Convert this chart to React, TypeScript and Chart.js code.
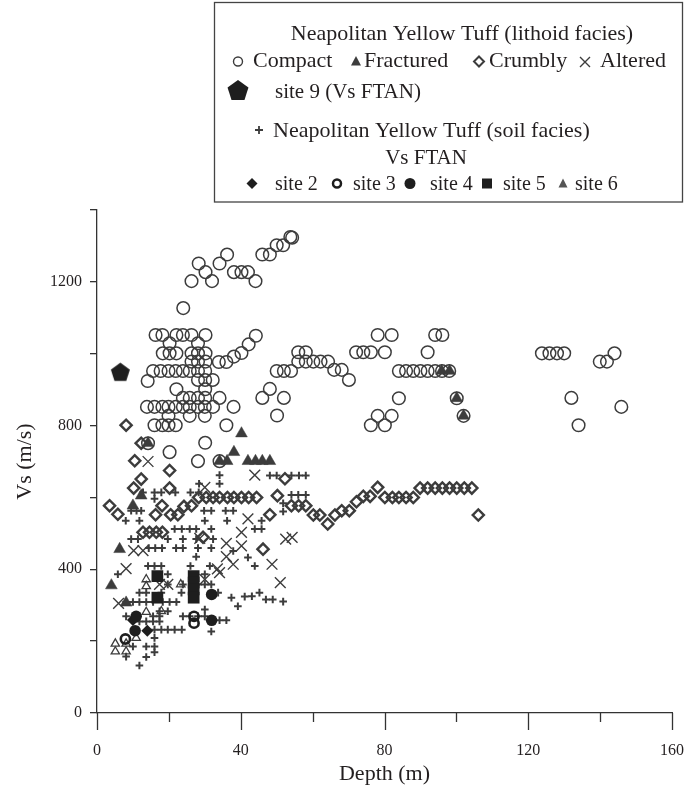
import React, { useEffect, useRef } from 'react';
import { Chart, registerables } from 'chart.js';

Chart.register(...registerables);

type P = [number, number];

// ---- axis ticks ----
const xTickValues = [0, 20, 40, 60, 80, 100, 120, 140, 160];
const xLabelValues = [0, 40, 80, 120, 160];
const yLabelValues = [0, 400, 800, 1200];

// ---- lithoid facies ----
const compact: P[] = [
  [53.8, 1325], [54.3, 1323], [50, 1302], [51.8, 1302],
  [36.2, 1276], [46, 1276], [48.1, 1276], [28.3, 1251], [34.1, 1251],
  [30.2, 1227], [38.1, 1227], [40.2, 1227], [42, 1227],
  [26.3, 1202], [32, 1202], [44.1, 1202], [24, 1127],
  [16.3, 1052], [18.2, 1052], [22.1, 1052], [23.9, 1052], [26.3, 1052], [30.2, 1052],
  [20.2, 1029], [28.1, 1029],
  [33.9, 977], [36, 977], [38.1, 992], [40.2, 1002], [42.2, 1026], [44.2, 1050],
  [18.3, 1001], [20.2, 1001], [22.1, 1001], [26.3, 1001], [28.1, 1001], [30.2, 1001],
  [26.3, 978], [28.1, 978], [30.2, 978],
  [15.6, 952], [17.7, 952], [19.9, 952], [21.9, 952], [23.9, 952], [25.8, 952], [28.1, 952], [30.1, 952],
  [14.1, 924], [28.1, 927], [30.1, 927], [32.2, 927],
  [22.1, 901], [30.1, 901],
  [23.9, 877], [25.8, 877], [28.1, 877], [30.1, 877], [34.1, 877],
  [13.9, 852], [16, 852], [18.2, 852], [19.9, 852], [21.9, 852], [23.9, 852], [25.8, 852], [28.1, 852], [30, 852], [32.3, 852], [38, 852],
  [19.9, 827], [25.8, 827], [30, 827],
  [16, 801], [18.2, 801], [19.9, 801], [21.9, 801], [36, 801],
  [30.1, 752], [14.2, 751], [20.2, 726], [28.1, 701], [34.1, 701],
  [48.1, 902], [46, 877], [52, 877], [50.1, 828], [50, 952], [52, 952], [54, 952],
  [56, 1004], [58.1, 1004], [72.1, 1004], [74.1, 1004], [76.2, 1004], [80.1, 1004], [92, 1004],
  [56, 978], [58.1, 978], [60.2, 978], [62.2, 978], [64.3, 978],
  [66, 955], [68.1, 955], [70.1, 927],
  [78.1, 1052], [82, 1052], [94.1, 1052], [96.1, 1052],
  [84, 952], [86, 952], [88, 952], [90, 952], [92, 952], [94.1, 952], [96, 952], [98, 952],
  [84, 876], [100.1, 876], [102, 827],
  [78.1, 827], [82, 827], [76.2, 801], [80.1, 801],
  [123.8, 1001], [125.9, 1001], [128, 1001], [130, 1001], [144, 1001],
  [139.9, 978], [141.9, 978], [132, 877], [134, 801], [145.9, 852],
];

const fractured: P[] = [
  [4, 355], [6.3, 456], [8.1, 307], [10, 577], [12.3, 605], [14.2, 751],
  [34.1, 701], [36.2, 701], [38.1, 726], [40.2, 778], [42, 701], [44.1, 701], [46, 701], [48.1, 701],
  [95.9, 952], [98.1, 952], [100.1, 876], [102, 827],
];

const crumbly: P[] = [
  [8.1, 801], [10.5, 702], [12.3, 751], [20.2, 675], [12.3, 651], [10.2, 626], [20.2, 626],
  [3.5, 577], [5.8, 553], [16.3, 552], [18.1, 577], [20.5, 552], [22.5, 552], [24.2, 575], [26.3, 577],
  [12.8, 503], [14.6, 503], [16.5, 503], [18.2, 503], [29.5, 489], [46.2, 456], [48.1, 552], [50.2, 605],
  [28.3, 600], [30.4, 600], [32.3, 600], [34.1, 600], [36.3, 600], [38.1, 600], [40.2, 600], [42.2, 600], [44.4, 600],
  [52.3, 652], [54.1, 577], [56.1, 577], [58.1, 577], [60.2, 551], [62, 551], [64.2, 526], [66.2, 551],
  [68.1, 563], [70.2, 563], [72.2, 588], [74.1, 603], [76, 603], [78.1, 628],
  [80.1, 600], [82.2, 600], [84, 600], [86, 600], [88, 600],
  [89.9, 626], [92, 626], [94.1, 626], [96.1, 626], [98.1, 626], [100.1, 626], [102.2, 626], [104.3, 626],
  [106.1, 551],
];

const altered: P[] = [
  [14.2, 700], [43.9, 662], [30, 628], [42, 540], [40.2, 503], [28.6, 486], [36, 472], [40.2, 465],
  [10.2, 452], [12.8, 452], [36, 435], [37.9, 414], [33.5, 401], [34.1, 391], [48.7, 414],
  [52.5, 484], [54.3, 489], [51, 363], [8.1, 402], [6, 305], [17.4, 358], [19.7, 358], [30, 372],
];

// ---- soil facies ----
const soil: P[] = [
  [34.1, 662], [34.1, 638], [28.4, 638],
  [48.1, 661], [50, 661], [54.1, 661], [56.2, 661], [58.1, 661],
  [54.1, 607], [56, 607], [58.1, 607],
  [12.8, 614], [16, 614], [17.9, 614], [21.8, 614], [26, 614], [28.3, 614], [16, 596],
  [51.8, 584], [51.8, 561],
  [9.5, 563], [11, 563], [12.3, 563], [29.8, 563], [31.8, 563], [35.8, 563], [37.9, 563],
  [8, 535], [11.8, 535], [30, 535], [36.2, 535], [45.8, 535],
  [21.6, 512], [23.6, 512], [25.8, 512], [27.6, 512], [31.8, 512], [43.9, 512], [45.8, 512],
  [9.5, 484], [11.4, 484], [19.7, 484], [23.9, 484], [27.6, 484], [32.3, 484],
  [14.4, 459], [16.2, 459], [18.1, 459], [22, 459], [23.9, 459], [28.1, 459], [31.8, 459],
  [27.6, 435], [42, 433], [37.9, 451],
  [14.2, 409], [16, 409], [17.9, 409], [26, 409], [31.4, 409], [43.9, 409],
  [5.8, 386], [19.7, 386], [30, 386],
  [19.7, 358], [23.9, 358], [28.1, 358], [30, 358], [31.8, 358],
  [11.8, 335], [13.7, 335], [17.9, 335], [23.5, 335], [33.7, 335],
  [37.4, 321], [41.1, 324], [43.1, 325], [45.2, 335], [47, 316], [48.9, 316], [39.2, 297], [51.8, 310],
  [8.1, 309], [10, 309], [11.8, 309], [13.7, 309], [15.6, 309], [18.3, 309], [20.2, 309], [22.1, 309],
  [17.4, 283], [19.7, 283], [30, 288],
  [8.1, 269], [15.6, 269], [17.4, 269], [23.9, 269], [25.8, 269], [28.1, 269], [30, 269],
  [34.1, 258], [36, 258],
  [11.8, 255], [13.7, 255], [15.6, 255], [17.4, 255],
  [16, 232], [17.9, 232], [19.7, 232], [21.6, 232], [23.6, 232], [31.8, 227],
  [16, 209], [10, 185], [13.7, 185], [16, 185], [16, 169], [8.1, 157], [13.7, 156], [11.8, 132],
];

// ---- Vs FTAN sites ----
const site2: P[] = [[10, 259], [14, 229]];
const site3: P[] = [[7.9, 206], [27, 269], [27, 250]];
const site4: P[] = [[10.9, 269], [10.6, 229], [31.9, 330], [31.9, 258]];
const site5: P[] = [[16.8, 381], [16.8, 321], [26.9, 381], [26.9, 363], [26.9, 344], [26.9, 321]];
const site6: P[] = [
  [13.7, 372], [13.7, 353], [23.3, 358], [13.7, 281], [17.9, 283],
  [5.1, 193], [5.1, 171], [8.1, 193], [8.1, 171], [10.9, 209],
];
const site9: P[] = [[6.5, 950]];

const FONT = "'Liberation Serif', 'Times New Roman', serif";
const INK = '#231f20';
const GRAY = '#3c3c3c';
const DARK = '#1e1e1e';
const CLEAR = 'rgba(0,0,0,0)';

function makePentagon(size: number, color: string): HTMLCanvasElement {
  const c = document.createElement('canvas');
  c.width = size;
  c.height = size;
  const ctx = c.getContext('2d')!;
  drawPentagon(ctx, size / 2, size / 2 + size * 0.05, size / 2 - 0.5, color);
  return c;
}

function drawPentagon(ctx: CanvasRenderingContext2D, cx: number, cy: number, r: number, color: string) {
  ctx.fillStyle = color;
  ctx.beginPath();
  for (let i = 0; i < 5; i++) {
    const a = -Math.PI / 2 + (i * 2 * Math.PI) / 5;
    const x = cx + r * Math.cos(a);
    const y = cy + r * Math.sin(a);
    if (i === 0) ctx.moveTo(x, y);
    else ctx.lineTo(x, y);
  }
  ctx.closePath();
  ctx.fill();
}

function toPts(arr: P[]) {
  return arr.map(([x, y]) => ({ x, y }));
}

const legendPlugin = {
  id: 'paperLegend',
  afterDraw(chart: any) {
    const ctx: CanvasRenderingContext2D = chart.ctx;
    ctx.save();
    ctx.strokeStyle = '#444';
    ctx.lineWidth = 1.3;
    ctx.strokeRect(214.5, 2.5, 468, 199.5);

    ctx.fillStyle = INK;
    ctx.textBaseline = 'alphabetic';
    ctx.font = `22px ${FONT}`;
    ctx.textAlign = 'center';
    ctx.fillText('Neapolitan Yellow Tuff (lithoid facies)', 462, 39.5);

    ctx.textAlign = 'left';
    ctx.strokeStyle = GRAY;
    ctx.fillStyle = GRAY;
    // circle
    ctx.lineWidth = 1.4;
    ctx.beginPath();
    ctx.arc(238, 61.5, 4.5, 0, Math.PI * 2);
    ctx.stroke();
    // triangle
    ctx.beginPath();
    ctx.moveTo(356, 56);
    ctx.lineTo(361, 65.5);
    ctx.lineTo(351, 65.5);
    ctx.closePath();
    ctx.fill();
    // diamond
    ctx.lineWidth = 2;
    ctx.beginPath();
    ctx.moveTo(479, 56.5);
    ctx.lineTo(484, 61.5);
    ctx.lineTo(479, 66.5);
    ctx.lineTo(474, 61.5);
    ctx.closePath();
    ctx.stroke();
    // x
    ctx.lineWidth = 1.4;
    ctx.beginPath();
    ctx.moveTo(580, 57);
    ctx.lineTo(590, 67);
    ctx.moveTo(590, 57);
    ctx.lineTo(580, 67);
    ctx.stroke();

    ctx.fillStyle = INK;
    ctx.font = `22px ${FONT}`;
    ctx.fillText('Compact', 253, 66.5);
    ctx.fillText('Fractured', 364, 66.5);
    ctx.fillText('Crumbly', 489, 66.5);
    ctx.fillText('Altered', 600, 66.5);

    // site 9
    drawPentagon(ctx, 238, 91, 11, DARK);
    ctx.fillStyle = INK;
    ctx.font = `21px ${FONT}`;
    ctx.fillText('site 9 (Vs FTAN)', 275, 97.5);

    // soil facies
    ctx.strokeStyle = GRAY;
    ctx.lineWidth = 1.8;
    ctx.beginPath();
    ctx.moveTo(255, 130);
    ctx.lineTo(263, 130);
    ctx.moveTo(259, 126);
    ctx.lineTo(259, 134);
    ctx.stroke();
    ctx.fillStyle = INK;
    ctx.font = `22px ${FONT}`;
    ctx.fillText('Neapolitan Yellow Tuff (soil facies)', 273, 136.5);

    ctx.font = `21px ${FONT}`;
    ctx.textAlign = 'center';
    ctx.fillText('Vs FTAN', 426, 163.5);
    ctx.textAlign = 'left';

    // bottom row
    const my = 183.5;
    ctx.fillStyle = DARK;
    ctx.beginPath();
    ctx.moveTo(252, my - 5.5);
    ctx.lineTo(257.5, my);
    ctx.lineTo(252, my + 5.5);
    ctx.lineTo(246.5, my);
    ctx.closePath();
    ctx.fill();

    ctx.strokeStyle = DARK;
    ctx.lineWidth = 2.5;
    ctx.beginPath();
    ctx.arc(337, my, 4, 0, Math.PI * 2);
    ctx.stroke();

    ctx.beginPath();
    ctx.arc(410, my, 5.5, 0, Math.PI * 2);
    ctx.fill();

    ctx.fillRect(482, my - 5, 10, 10);

    ctx.fillStyle = '#555';
    ctx.beginPath();
    ctx.moveTo(563, my - 5);
    ctx.lineTo(567.5, my + 4);
    ctx.lineTo(558.5, my + 4);
    ctx.closePath();
    ctx.fill();

    ctx.fillStyle = INK;
    ctx.font = `20px ${FONT}`;
    ctx.fillText('site 2', 275, 190);
    ctx.fillText('site 3', 353, 190);
    ctx.fillText('site 4', 430, 190);
    ctx.fillText('site 5', 503, 190);
    ctx.fillText('site 6', 575, 190);

    // x-axis tick marks (major / minor)
    const xs = chart.scales.x;
    const y0 = chart.chartArea.bottom;
    ctx.strokeStyle = '#333';
    ctx.lineWidth = 1.3;
    for (const v of xTickValues) {
      const px = Math.round(xs.getPixelForValue(v)) + 0.5;
      const len = xLabelValues.includes(v) ? 17 : 9;
      ctx.beginPath();
      ctx.moveTo(px, y0);
      ctx.lineTo(px, y0 + len);
      ctx.stroke();
    }
    ctx.restore();
  },
};

export default function App() {
  const ref = useRef<HTMLCanvasElement | null>(null);

  useEffect(() => {
    const canvas = ref.current;
    if (!canvas) return;
    const pent = makePentagon(21, DARK);

    const chart = new Chart(canvas, {
      type: 'scatter',
      data: {
        datasets: [
          { label: 'site 9', data: toPts(site9), pointStyle: pent as any, pointRadius: 10, backgroundColor: DARK, borderColor: DARK },
          { label: 'site 5', data: toPts(site5), pointStyle: 'rect', pointRadius: 8.3, backgroundColor: DARK, borderColor: DARK, borderWidth: 0 },
          { label: 'site 4', data: toPts(site4), pointStyle: 'circle', pointRadius: 5.8, backgroundColor: DARK, borderColor: DARK, borderWidth: 0 },
          { label: 'site 2', data: toPts(site2), pointStyle: 'rectRot', pointRadius: 6, backgroundColor: DARK, borderColor: DARK, borderWidth: 0 },
          { label: 'site 3', data: toPts(site3), pointStyle: 'circle', pointRadius: 4.6, backgroundColor: CLEAR, borderColor: DARK, borderWidth: 2.6 },
          { label: 'site 6', data: toPts(site6), pointStyle: 'triangle', pointRadius: 4.8, backgroundColor: CLEAR, borderColor: GRAY, borderWidth: 1.3 },
          { label: 'Fractured', data: toPts(fractured), pointStyle: 'triangle', pointRadius: 6.8, backgroundColor: GRAY, borderColor: GRAY, borderWidth: 0.5 },
          { label: 'soil', data: toPts(soil), pointStyle: 'cross', pointRadius: 3.8, backgroundColor: CLEAR, borderColor: GRAY, borderWidth: 2 },
          { label: 'Altered', data: toPts(altered), pointStyle: 'crossRot', pointRadius: 7.6, backgroundColor: CLEAR, borderColor: GRAY, borderWidth: 1.4 },
          { label: 'Crumbly', data: toPts(crumbly), pointStyle: 'rectRot', pointRadius: 5.6, backgroundColor: CLEAR, borderColor: GRAY, borderWidth: 2.4 },
          { label: 'Compact', data: toPts(compact), pointStyle: 'circle', pointRadius: 6.3, backgroundColor: CLEAR, borderColor: GRAY, borderWidth: 1.5 },
        ],
      },
      options: {
        animation: false,
        responsive: false,
        devicePixelRatio: 1,
        layout: { padding: { left: 0, right: 13, top: 210, bottom: 0 } },
        plugins: {
          legend: { display: false },
          tooltip: { enabled: false },
        },
        elements: { point: { hoverRadius: 0 } },
        scales: {
          x: {
            type: 'linear',
            min: 0,
            max: 160,
            afterFit: (s: any) => {
              s.height = 75;
              s.paddingLeft = 0;
              s.paddingRight = 0;
            },
            grid: { display: false, drawTicks: false },
            border: { display: true, color: '#333', width: 1.3 },
            afterBuildTicks: (s: any) => { s.ticks = xLabelValues.map((v) => ({ value: v })); },
            ticks: {
              color: INK,
              font: { family: FONT, size: 16 },
              padding: 28,
              maxRotation: 0,
            },
            title: {
              display: true,
              text: 'Depth (m)',
              color: INK,
              font: { family: FONT, size: 22 },
              padding: { top: 0, bottom: 1 },
            },
          },
          y: {
            type: 'linear',
            min: 0,
            max: 1400,
            afterFit: (s: any) => {
              s.width = 97;
              s.paddingTop = 0;
              s.paddingBottom = 0;
            },
            grid: { drawOnChartArea: false, drawTicks: true, tickLength: 7, color: '#333', lineWidth: 1.3 },
            border: { display: true, color: '#333', width: 1.3 },
            ticks: {
              stepSize: 200,
              color: INK,
              font: { family: FONT, size: 16 },
              padding: 8,
              callback: (v: any) => (yLabelValues.includes(Number(v)) ? String(v) : ''),
            },
            title: {
              display: true,
              text: 'Vs (m/s)',
              color: INK,
              font: { family: FONT, size: 22 },
              padding: { top: 12, bottom: 0 },
            },
          },
        },
      },
      plugins: [legendPlugin],
    });
    return () => chart.destroy();
  }, []);

  return (
    <div style={{ position: 'absolute', left: 0, top: 0, width: 685, height: 788, background: '#fff' }}>
      <canvas ref={ref} width={685} height={788} style={{ width: 685, height: 788, display: 'block' }} />
    </div>
  );
}
